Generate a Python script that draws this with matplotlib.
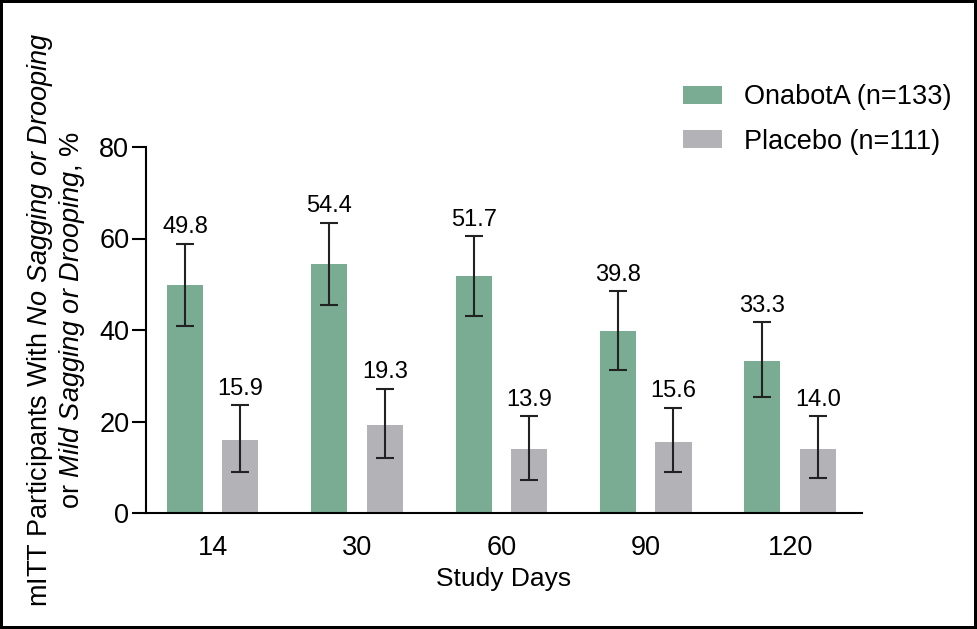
import numpy as np
from matplotlib import pyplot as plt

days = ['14', '30', '60', '90', '120']
onabot = [49.8, 54.4, 51.7, 39.8, 33.3]
onabot_lo = [40.9, 45.5, 43.1, 31.2, 25.3]
onabot_hi = [58.8, 63.4, 60.5, 48.5, 41.7]
placebo = [15.9, 19.3, 13.9, 15.6, 14.0]
placebo_lo = [9.0, 12.1, 7.3, 8.9, 7.6]
placebo_hi = [23.5, 27.2, 21.1, 23.0, 21.1]

plt.rcParams['font.family'] = ['Liberation Sans', 'DejaVu Sans']
plt.rcParams['mathtext.fontset'] = 'custom'
plt.rcParams['mathtext.rm'] = 'Liberation Sans'
plt.rcParams['mathtext.it'] = 'Liberation Sans:italic'

green = '#7aab93'
grey = '#b3b2b6'

fig = plt.figure(figsize=(9.77, 6.29), dpi=100)
fig.patch.set_edgecolor('black')
fig.patch.set_linewidth(3)
ax = fig.add_axes([146 / 977, 1 - 513 / 629, (862 - 146) / 977, (513 - 147) / 629])

x = np.arange(len(days))
w = 0.25
off = 0.384
err_a = [np.array(onabot) - np.array(onabot_lo), np.array(onabot_hi) - np.array(onabot)]
err_p = [np.array(placebo) - np.array(placebo_lo), np.array(placebo_hi) - np.array(placebo)]

ax.bar(x, onabot, w, color=green, label='OnabotA (n=133)')
ax.bar(x + off, placebo, w, color=grey, label='Placebo (n=111)')
ax.errorbar(x, onabot, yerr=err_a, fmt='none', ecolor='#222222', elinewidth=1.5,
            capsize=6.5, capthick=1.5)
ax.errorbar(x + off, placebo, yerr=err_p, fmt='none', ecolor='#222222', elinewidth=1.5,
            capsize=6.5, capthick=1.5)

for i in range(len(days)):
    ax.annotate(f'{onabot[i]:.1f}', (x[i], onabot_hi[i]), xytext=(0, 4),
                textcoords='offset points', ha='center', va='bottom', fontsize=17)
    ax.annotate(f'{placebo[i]:.1f}', (x[i] + off, placebo_hi[i]), xytext=(0, 4),
                textcoords='offset points', ha='center', va='bottom', fontsize=17)

ax.set_xlim(-0.27, 4.69)
ax.set_ylim(0, 80)
ax.set_yticks([0, 20, 40, 60, 80])
ax.set_xticks(x + off / 2)
ax.set_xticklabels(days)
ax.tick_params(axis='x', length=0, labelsize=19.5, pad=16)
ax.tick_params(axis='y', length=10, width=1.5, labelsize=19.5, pad=2)
ax.spines['top'].set_visible(False)
ax.spines['right'].set_visible(False)
ax.spines['left'].set_linewidth(1.5)
ax.spines['bottom'].set_linewidth(1.5)
ax.set_xlabel('Study Days', fontsize=19, labelpad=4)

fig.text(56 / 977, 1 - 320 / 629,
         'mITT Participants With $\\it{No\\ Sagging\\ or\\ Drooping}$\n'
         'or $\\it{Mild\\ Sagging\\ or\\ Drooping}$, %',
         rotation=90, ha='center', va='center', multialignment='center', fontsize=19.5,
         linespacing=1.05)

ax.legend(loc='upper left', bbox_to_anchor=(659 / 977, 1 - 60 / 629),
          bbox_transform=fig.transFigure, frameon=False, fontsize=19.5,
          handlelength=1.44, handleheight=0.63, handletextpad=0.8, labelspacing=0.67)

plt.savefig('out.png', dpi=100)
